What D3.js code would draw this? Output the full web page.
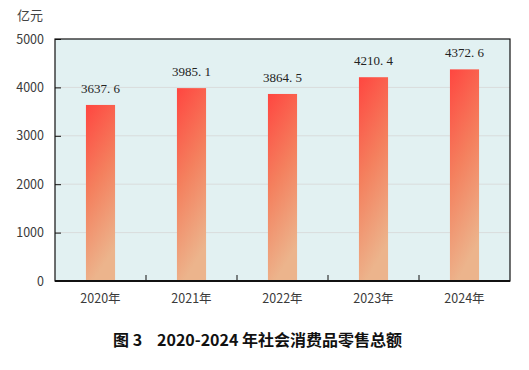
<!DOCTYPE html>
<html lang="zh">
<head>
<meta charset="utf-8">
<title>社会消费品零售总额</title>
<script src="https://d3js.org/d3.v7.min.js"></script>
<style>
	body { margin: 0; background: #fff; }
	svg text { font-family: "Noto Sans CJK SC", "Noto Sans", sans-serif; }
</style>
</head>
<body>
<script>
	// data
	var years = ["2020年", "2021年", "2022年", "2023年", "2024年"];
	var values = [3637.6, 3985.1, 3864.5, 4210.4, 4372.6];
	var yTicks = [0, 1000, 2000, 3000, 4000, 5000];

	var w = 529, h = 370;
	var padL = 55, padR = 510, padT = 39, padB = 281;

	var svg = d3.select("body").append("svg")
		.attr("width", w)
		.attr("height", h);

	var defs = svg.append("defs");
	var grad = defs.append("linearGradient")
		.attr("id", "barGrad")
		.attr("x1", "0").attr("y1", "0")
		.attr("x2", "0.25").attr("y2", "1");
	grad.append("stop").attr("offset", "0").attr("stop-color", "#ff4640");
	grad.append("stop").attr("offset", "0.5").attr("stop-color", "#f4805e");
	grad.append("stop").attr("offset", "1").attr("stop-color", "#ecb48c");

	var xScale = d3.scaleBand().domain(years).range([padL, padR]).paddingInner(0.68).paddingOuter(0.34);
	var yScale = d3.scaleLinear().domain([0, 5000]).range([padB, padT]);

	// plot background
	svg.append("rect")
		.attr("x", padL).attr("y", padT)
		.attr("width", padR - padL).attr("height", padB - padT)
		.attr("fill", "#e2f1f2");

	// gridlines
	svg.selectAll("line.grid")
		.data(yTicks.slice(1, -1))
		.enter().append("line")
		.attr("class", "grid")
		.attr("x1", padL).attr("x2", padR)
		.attr("y1", d => yScale(d)).attr("y2", d => yScale(d))
		.attr("stroke", "#d9dcdc")
		.attr("stroke-width", 1);

	// bars
	svg.selectAll("rect.bar")
		.data(values)
		.enter().append("rect")
		.attr("class", "bar")
		.attr("x", (d, i) => xScale(years[i]))
		.attr("y", d => yScale(d))
		.attr("width", xScale.bandwidth())
		.attr("height", d => padB - yScale(d))
		.attr("fill", "url(#barGrad)");

	// value labels
	svg.selectAll("text.val")
		.data(values)
		.enter().append("text")
		.attr("class", "val")
		.attr("x", (d, i) => xScale(years[i]) + xScale.bandwidth() / 2)
		.attr("y", d => yScale(d) - 12)
		.attr("text-anchor", "middle")
		.style("font-family", "'Liberation Serif', 'DejaVu Serif', serif")
		.style("font-size", "13px")
		.style("white-space", "pre")
		.attr("fill", "#222")
		.text(d => d.toFixed(1).replace(".", ". "));

	// frame
	svg.append("rect")
		.attr("x", padL).attr("y", padT)
		.attr("width", padR - padL).attr("height", padB - padT)
		.attr("fill", "none")
		.attr("stroke", "#111")
		.attr("stroke-width", 1.2);
	svg.append("line")
		.attr("x1", padL).attr("x2", padR)
		.attr("y1", padB).attr("y2", padB)
		.attr("stroke", "#111").attr("stroke-width", 2);

	// y axis
	var yAxis = d3.axisLeft(yScale).tickValues(yTicks).tickFormat(d3.format("d")).tickSize(-6).tickPadding(11);
	var gy = svg.append("g")
		.attr("transform", "translate(" + padL + ",0)")
		.call(yAxis);
	gy.select(".domain").remove();
	gy.selectAll(".tick line").attr("stroke", "#111");
	gy.selectAll("text").style("font-size", "12.5px").attr("fill", "#3a3a3a");

	// x axis: ticks at band boundaries pointing inward
	var step = xScale.step();
	svg.selectAll("line.xt")
		.data(years.slice(1))
		.enter().append("line")
		.attr("class", "xt")
		.attr("x1", d => xScale(d) - xScale.paddingInner() * step / 2)
		.attr("x2", d => xScale(d) - xScale.paddingInner() * step / 2)
		.attr("y1", padB).attr("y2", padB - 6)
		.attr("stroke", "#111");
	svg.selectAll("text.xl")
		.data(years)
		.enter().append("text")
		.attr("class", "xl")
		.attr("x", d => xScale(d) + xScale.bandwidth() / 2)
		.attr("y", padB + 22)
		.attr("text-anchor", "middle")
		.style("font-size", "12.5px")
		.attr("fill", "#3a3a3a")
		.text(d => d);

	// unit label
	svg.append("text")
		.attr("x", 17).attr("y", 20)
		.style("font-size", "13px")
		.attr("fill", "#444")
		.text("亿元");

	// title
	var title = svg.append("text")
		.attr("y", 346)
		.style("font-size", "16px")
		.style("font-weight", "bold")
		.attr("fill", "#111");
	title.append("tspan").attr("x", 113).text("图 3");
	title.append("tspan").attr("x", 157).text("2020-2024 年社会消费品零售总额");
</script>
</body>
</html>
